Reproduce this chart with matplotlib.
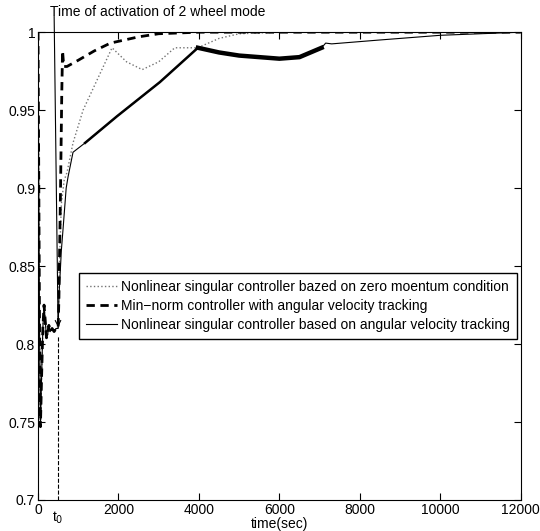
import matplotlib.pyplot as plt

plt.rcParams['font.family'] = ['Liberation Sans', 'DejaVu Sans']

# shared part before the 2 wheel mode switch
t_pre = [0, 20, 40, 60, 90, 120, 150, 180, 210, 240, 270, 300, 350, 400, 450, 500]
y_pre = [1.0, 0.90, 0.80, 0.747, 0.78, 0.81, 0.825, 0.815, 0.804, 0.806, 0.812,
         0.808, 0.81, 0.808, 0.81, 0.81]

# nonlinear singular controller, zero momentum condition (dotted)
t_zm = [530, 580, 650, 720, 870, 1120, 1840, 2200, 2590, 3000, 3400, 3970, 4500,
        5000, 6000, 12000]
y_zm = [0.85, 0.89, 0.905, 0.91, 0.929, 0.95, 0.990, 0.981, 0.976, 0.981, 0.990,
        0.990, 0.996, 0.999, 1.0, 1.0]

# min-norm controller (dashed)
t_mn = [520, 560, 590, 610, 640, 720, 1000, 1400, 1800, 2500, 3000, 4000, 12000]
y_mn = [0.83, 0.90, 0.96, 0.988, 0.978, 0.978, 0.982, 0.988, 0.993, 0.997, 0.999,
        1.0, 1.0]

# nonlinear singular controller, angular velocity tracking (solid)
t_av = [520, 580, 620, 700, 745, 870, 1170, 1960, 3030, 3975, 4500, 5000, 6000,
        6500, 7050, 7150, 7300, 8500, 10000, 12000]
y_av = [0.83, 0.86, 0.873, 0.90, 0.907, 0.923, 0.929, 0.946, 0.968, 0.990, 0.987,
        0.985, 0.983, 0.984, 0.990, 0.993, 0.9925, 0.995, 0.998, 1.0]

t0 = 500

fig = plt.figure(figsize=(5.4, 5.31), dpi=100)
ax = fig.add_axes([0.0704, 0.0584, 0.894, 0.881])

ax.plot(t_pre + t_zm, y_pre + y_zm, ':', color='0.45', lw=1.0,
        label='Nonlinear singular controller bazed on zero moentum condition')
ax.plot(t_pre + t_mn, y_pre + y_mn, '--', color='k', lw=2, dashes=(3, 2),
        label='Min\u2212norm controller with angular velocity tracking')
ax.plot(t_pre + t_av, y_pre + y_av, '-', color='k', lw=0.8,
        label='Nonlinear singular controller based on angular velocity tracking')
# zigzag band of the solid curve
ax.plot(t_av[6:10], y_av[6:10], '-', color='k', lw=1.8)
ax.plot(t_av[9:15], y_av[9:15], '-', color='k', lw=3.2)

# activation time marker
ax.plot([t0, t0], [0.7, 0.805], '--', color='k', lw=0.8)
ax.annotate('', xy=(t0, 0.809), xytext=(400, 1.012),
            arrowprops=dict(arrowstyle='->', color='k', lw=0.8), annotation_clip=False)
ax.text(300, 1.0085, 'Time of activation of 2 wheel mode', fontsize=10,
        va='bottom', ha='left', clip_on=False)
ax.text(t0, 0.694, 't$_0$', fontsize=10, ha='center', va='top', clip_on=False)

ax.set_xlim(0, 12000)
ax.set_ylim(0.7, 1.0)
ax.set_xticks(range(0, 12001, 2000))
ax.set_yticks([0.7, 0.75, 0.8, 0.85, 0.9, 0.95, 1.0])
ax.set_yticklabels(['0.7', '0.75', '0.8', '0.85', '0.9', '0.95', '1'])
ax.tick_params(direction='in', top=True, right=True, labelsize=10, length=5, pad=2)
ax.set_xlabel('time(sec)', fontsize=10, labelpad=0)

ax.legend(loc='upper right', bbox_to_anchor=(0.992, 0.485), borderaxespad=0,
          fontsize=10, frameon=True, fancybox=False, edgecolor='k', framealpha=1,
          handlelength=2.2, handletextpad=0.3, borderpad=0.5, labelspacing=0.35)

plt.savefig('out.png')
